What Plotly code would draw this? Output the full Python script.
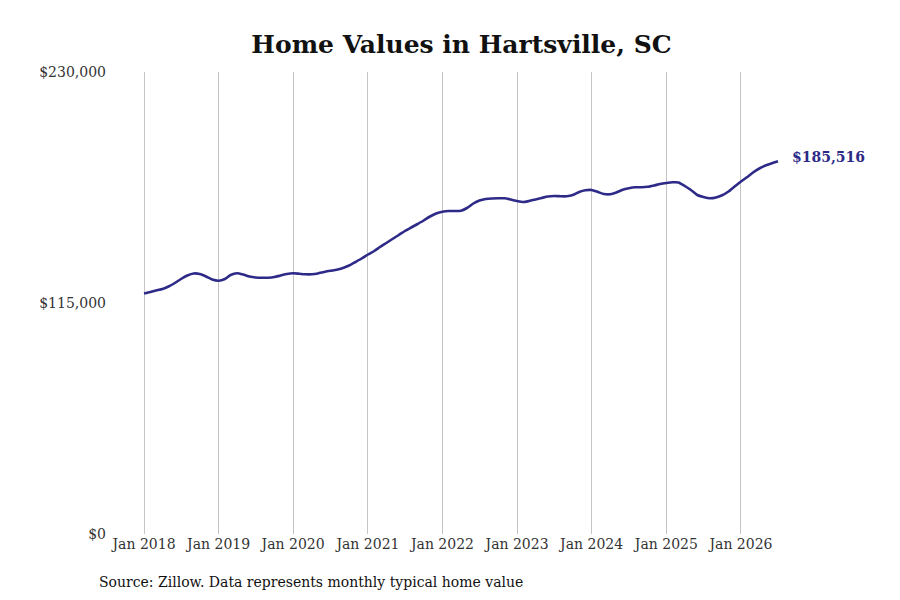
import plotly.graph_objects as go
import pandas as pd

# monthly typical home value, Jan 2018 .. Jul 2026
months = pd.date_range("2018-01-01", periods=103, freq="MS")
values = [
    119730, 120477, 121224, 121971, 123215, 124958, 126949, 128692, 129687, 129438, 128194, 126700,
    126103, 126949, 128941, 129787, 129190, 128194, 127696, 127547, 127597, 127945, 128692, 129438,
    129787, 129538, 129289, 129289, 129687, 130434, 131031, 131529, 132425, 133670, 135412, 137155,
    139146, 140889, 142880, 144871, 146863, 148854, 150846, 152588, 154330, 156073, 158064, 159558,
    160454, 160802, 160802, 160902, 162296, 164536, 166030, 166776, 167025, 167125, 167125, 166527,
    165781, 165283, 165781, 166527, 167274, 168021, 168270, 168120, 168120, 168768, 170261, 171107,
    171257, 170261, 169266, 169116, 170012, 171357, 172103, 172601, 172601, 172850, 173497, 174244,
    174742, 175090, 174991, 173248, 171257, 168768, 167772, 167125, 167524, 168619, 170510, 172999,
    175489, 177729, 179970, 181961, 183454, 184550, 185516,
]

y_ticks = [0, 115000, 230000]
y_tick_labels = ["$0", "$115,000", "$230,000"]
x_ticks = pd.date_range("2018-01-01", "2026-01-01", freq="YS")
x_tick_labels = [d.strftime("Jan %Y") for d in x_ticks]

line_color = "#2e2b88"
serif = "DejaVu Serif"

# the page body adds an 8px margin, so the figure is a bit smaller
W, H = 884, 584
L, T, PW, PH = 107, 64, 685, 462

fig = go.Figure()
fig.add_trace(go.Scatter(
    x=months, y=values,
    mode="lines",
    line=dict(color=line_color, width=2.6, shape="spline", smoothing=0.6),
    hoverinfo="skip",
    showlegend=False,
))

fig.add_annotation(
    x=months[-1], y=values[-1],
    text="<b>$%s</b>" % format(values[-1], ","),
    showarrow=False, xanchor="left", xshift=12, yshift=4,
    font=dict(family=serif, size=14, color=line_color),
)

fig.add_annotation(
    x=-18 / PW, y=-48 / PH, xref="paper", yref="paper",
    text="Source: Zillow. Data represents monthly typical home value",
    showarrow=False, xanchor="left", yanchor="middle",
    font=dict(family=serif, size=14, color="#111"),
)

fig.update_layout(
    width=W, height=H,
    margin=dict(l=L, r=W - L - PW, t=T, b=H - T - PH),
    plot_bgcolor="white", paper_bgcolor="white",
    title=dict(
        text="<b>Home Values in Hartsville, SC</b>",
        x=(L + PW / 2 + 4) / W, xanchor="center", y=1 - 36 / H, yanchor="middle",
        font=dict(family=serif, size=25, color="#111"),
    ),
    font=dict(family=serif, size=14, color="#333"),
)

fig.update_xaxes(
    range=["2017-08-12", "2026-10-17"],
    tickvals=x_ticks, ticktext=x_tick_labels,
    showgrid=True, gridcolor="#c4c4c4", gridwidth=1,
    showline=False, zeroline=False, ticks="",
    tickfont=dict(family=serif, size=14, color="#333"),
)
fig.update_yaxes(
    range=[0, 230000],
    tickvals=y_ticks, ticktext=y_tick_labels,
    showgrid=False, zeroline=False, showline=False, ticks="",
    ticklabelstandoff=8,
    tickfont=dict(family=serif, size=14, color="#333"),
)

fig.write_html("out.html")
